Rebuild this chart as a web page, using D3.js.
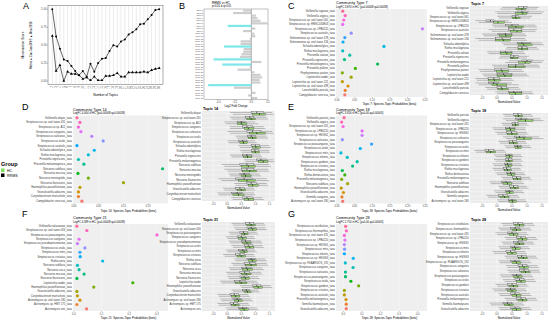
<!DOCTYPE html>
<html><head><meta charset="utf-8">
<script src="https://cdn.jsdelivr.net/npm/d3@7"></script>
<style>body{margin:0;background:#fff} text{font-family:"Liberation Sans",Arial,sans-serif}</style>
</head><body><svg id="fig" width="552" height="323"></svg>
<script>
// ---------- panel A : topic number tuning
var topicsA = [2,3,4,5,6,7,8,9,10,11,12,13,14,15,16,17,18,19,20,21,22,23,24,25,26,27,28,29,30];
var arun    = [1.00,0.62,0.45,0.30,0.28,0.21,0.14,0.08,0.14,0.06,0.24,0.13,0.25,0.31,0.32,0.42,0.50,0.48,0.55,0.58,0.65,0.68,0.72,0.79,0.80,0.86,0.92,0.99,1.00];
var caojuan = [0.63,0.14,0.22,0.00,0.13,0.10,0.10,0.08,0.03,0.05,0.01,0.06,0.01,0.01,0.07,0.07,0.08,0.11,0.06,0.06,0.12,0.12,0.12,0.12,0.13,0.12,0.15,0.17,0.18];

// ---------- panel B : RRMS vs HC per topic
var topicsB = d3.range(1,36).map(function(i){return "Topic " + i;});
var lfcB = [-0.10,-0.22,0.055,0.074,0.11,0.20,-0.285,0.048,-0.10,0.037,0.048,-0.019,-0.13,-0.13,-0.33,-0.092,-0.10,-0.12,-0.137,-0.455,0.12,-0.35,-0.019,-0.167,0.037,0.11,0.13,0.10,0.11,-0.52,-0.21,0.01,0.05,-0.04,0.07];
var sigB = [7,15,20,22,30];

// ---------- panels C-G : species per community type
var namesC = ["Veillonella rogosae","Veillonella atypica","Streptococcus sp. oral taxon 061","Streptococcus sp. HMSC034E03","Streptococcus sp. LPB0220","Streptococcus australis","Selenomonas sp. oral taxon 478","Selenomonas sp. oral taxon 136","Schaalia odontolytica","Rothia mucilaginosa","Prevotella salivae","Prevotella nigrescens","Prevotella melaninogenica","Prevotella pallens","Porphyromonas pasteri","Leptotrichia wadei","Leptotrichia sp. oral taxon 221","Leptotrichia sp. oral taxon 498","Lancefieldella parvula","Campylobacter concisus"];
var betaC = [0.016,0.023,0.019,0.016,0.242,0.040,0.022,0.017,0.133,0.016,0.036,0.021,0.115,0.052,0.015,0.040,0.015,0.031,0.023,0.022];
var hcC = [[0.11,0.63,0.83,0.94,1.33],[0,0.61,0.86,1.0,1.5],[0.06,0.5,0.63,0.78,1.11],[-0.61,-0.11,0.03,0.26,0.5],[-0.11,0.39,0.63,0.89,1.33],[-0.17,0.44,0.67,0.83,1.28],[-0.44,0.08,0.3,0.5,1.0],[-0.61,-0.06,0.22,0.44,1.0],[0.22,0.7,0.89,1.17,1.56],[0.28,0.7,0.83,1.03,1.39],[-0.28,0.11,0.33,0.5,0.94],[0.06,0.44,0.5,0.7,1.0],[0.28,0.72,0.94,1.11,1.5],[-0.11,0.39,0.61,0.94,1.44],[-0.56,-0.03,0.17,0.39,0.89],[-0.44,0,0.26,0.5,1.06],[-0.67,-0.28,-0.08,0.11,0.56],[-0.61,-0.17,0,0.33,0.72],[-0.33,0.03,0.17,0.37,0.78],[0,0.41,0.61,0.83,1.22]];
var rrC = [[0.17,0.72,0.89,1.0,1.39],[-0.06,0.67,0.83,1.06,1.56],[0,0.5,0.61,0.72,1.17],[-0.72,-0.37,-0.22,-0.08,0.39],[-0.17,0.28,0.5,0.72,1.28],[-0.28,0.39,0.56,0.83,1.33],[-0.5,0.03,0.28,0.5,0.94],[-0.72,-0.06,0.17,0.44,0.94],[0.17,0.67,0.83,1.11,1.5],[0.33,0.7,0.83,1.0,1.33],[-0.33,0.11,0.28,0.5,0.89],[0.11,0.44,0.56,0.72,1.06],[0.39,0.83,1.0,1.17,1.56],[-0.17,0.39,0.63,0.89,1.39],[-0.61,-0.08,0.14,0.39,0.83],[-0.5,0,0.22,0.5,1.0],[-0.72,-0.3,-0.11,0.08,0.5],[-0.72,-0.28,-0.11,0.06,0.5],[-0.39,0,0.14,0.33,0.72],[-0.06,0.39,0.56,0.83,1.17]];

var namesD = ["Veillonella dispar","Streptococcus sp. oral taxon 431","Streptococcus sp. A12","Streptococcus sanguinis","Streptococcus salivarius","Streptococcus oralis","Streptococcus australis","Schaalia odontolytica","Rothia mucilaginosa","Prevotella nigrescens","Prevotella melaninogenica","Neisseria subflava","Neisseria mucosa","Neisseria meningitidis","Neisseria flavescens","Haemophilus parainfluenzae","Granulicatella adiacens","Corynebacterium matruchotii","Campylobacter concisus"];
var betaD = [0.006,0.012,0.009,0.014,0.036,0.059,0.006,0.041,0.029,0.009,0.020,0.179,0.008,0.029,0.100,0.012,0.009,0.009,0.016];
var hcD = [[0.2,0.9,1.15,1.35,1.65],[0.15,0.7,0.85,1.0,1.45],[-0.05,0.35,0.5,0.7,1.1],[0.1,0.6,0.75,0.95,1.35],[0.1,0.8,1.05,1.35,1.65],[0.35,0.75,0.9,1.05,1.45],[0.05,0.45,0.58,0.72,1.05],[0.45,0.9,1.02,1.18,1.55],[0.5,0.88,1.0,1.15,1.52],[0.15,0.58,0.72,0.88,1.25],[0.65,1.1,1.28,1.45,1.68],[-0.1,0.5,0.75,1.0,1.55],[0.0,0.55,0.8,1.05,1.5],[0.1,0.5,0.65,0.85,1.2],[-0.2,0.4,0.7,1.0,1.5],[0.3,0.75,0.9,1.1,1.45],[-0.1,0.35,0.5,0.65,1.0],[-0.3,0.2,0.4,0.6,1.0],[0.2,0.6,0.75,0.95,1.3]];
var rrD = [[0.1,0.85,1.05,1.3,1.6],[0.1,0.65,0.8,0.95,1.4],[-0.1,0.35,0.5,0.65,1.0],[0.1,0.55,0.7,0.9,1.3],[0.0,0.7,0.9,1.2,1.6],[0.3,0.72,0.85,1.0,1.4],[0.0,0.4,0.55,0.7,1.0],[0.4,0.85,1.0,1.15,1.5],[0.45,0.85,0.98,1.12,1.5],[0.1,0.55,0.7,0.85,1.2],[0.6,1.05,1.2,1.4,1.65],[-0.2,0.45,0.7,0.95,1.5],[-0.1,0.5,0.7,0.95,1.45],[0.05,0.45,0.6,0.8,1.15],[-0.3,0.3,0.6,0.9,1.4],[0.25,0.7,0.85,1.05,1.4],[-0.15,0.3,0.45,0.6,0.95],[-0.35,0.15,0.35,0.55,0.95],[0.15,0.55,0.7,0.9,1.25]];

var namesE = ["Veillonella parvula","Veillonella atypica","Streptococcus sp. oral taxon 431","Streptococcus sp. LPB0220","Streptococcus sp. HSISS1","Streptococcus salivarius","Streptococcus parasanguinis","Streptococcus oralis","Streptococcus mitis","Streptococcus infantis","Streptococcus gordonii","Streptococcus cristatus","Rothia mucilaginosa","Rothia dentocariosa","Prevotella melaninogenica","Neisseria subflava","Haemophilus parainfluenzae","Granulicatella adiacens","Gemella sanguinis","Actinomyces sp. oral taxon 180"];
var betaE = [0.020,0.013,0.017,0.071,0.071,0.015,0.098,0.066,0.011,0.029,0.057,0.044,0.015,0.022,0.013,0.030,0.012,0.018,0.014,0.016];
var hcE = [[0.25,0.6,0.72,0.85,1.2],[0.3,0.7,0.95,1.2,1.55],[0.2,0.52,0.62,0.72,1.05],[-0.1,0.3,0.45,0.6,0.95],[0.0,0.35,0.5,0.68,1.05],[0.3,0.65,0.9,1.15,1.55],[0.1,0.42,0.55,0.68,1.0],[0.3,0.6,0.7,0.82,1.15],[-0.7,-0.35,-0.22,-0.05,0.3],[-0.05,0.3,0.42,0.52,0.85],[-0.05,0.3,0.4,0.52,0.85],[-0.1,0.28,0.38,0.5,0.85],[-0.1,0.25,0.35,0.48,0.8],[0.0,0.35,0.48,0.6,0.95],[0.2,0.55,0.68,0.8,1.15],[-0.2,0.2,0.35,0.5,0.9],[0.1,0.45,0.6,0.72,1.05],[-0.05,0.3,0.42,0.55,0.9],[-0.3,0.1,0.25,0.4,0.75],[0.05,0.4,0.52,0.65,1.0]];
var rrE = [[0.2,0.55,0.7,0.82,1.15],[0.2,0.62,0.8,1.0,1.45],[0.15,0.5,0.6,0.7,1.0],[-0.15,0.28,0.42,0.6,0.95],[-0.05,0.32,0.48,0.65,1.0],[0.2,0.58,0.75,0.95,1.4],[0.05,0.4,0.52,0.65,0.95],[0.25,0.58,0.68,0.8,1.1],[-0.75,-0.4,-0.28,-0.1,0.25],[-0.1,0.28,0.4,0.5,0.8],[-0.1,0.28,0.38,0.5,0.8],[-0.15,0.25,0.35,0.48,0.8],[-0.15,0.22,0.32,0.45,0.78],[-0.05,0.32,0.45,0.58,0.9],[0.15,0.52,0.65,0.78,1.1],[-0.25,0.15,0.3,0.45,0.85],[0.05,0.42,0.55,0.7,1.0],[-0.1,0.28,0.4,0.52,0.85],[-0.35,0.05,0.2,0.35,0.7],[0.0,0.38,0.5,0.62,0.95]];

var namesF = ["Veillonella nakazawae","Streptococcus sp. oral taxon 056","Streptococcus parasanguinis","Streptococcus sanguinis","Streptococcus pseudopneumoniae","Streptococcus oralis","Streptococcus mitis","Streptococcus cristatus","Rothia aeria","Neisseria subflava","Neisseria sicca","Neisseria mucosa","Neisseria flavescens","Leptotrichia wadei","Haemophilus parainfluenzae","Granulicatella adiacens","Corynebacterium matruchotii","Actinomyces sp. oral taxon 180","Actinomyces sp. HMT 175","Actinomyces oris"];
var betaF = [0.011,0.047,0.30,0.019,0.013,0.040,0.022,0.023,0.104,0.013,0.019,0.037,0.011,0.213,0.072,0.011,0.013,0.022,0.011,0.046];
var hcF = [[0.2,0.7,0.85,1.0,1.35],[0.3,0.75,0.9,1.05,1.4],[0.1,0.5,0.62,0.75,1.1],[0.0,0.4,0.55,0.68,1.0],[0.1,0.55,0.7,0.85,1.25],[0.2,0.65,0.8,0.95,1.3],[0.0,0.45,0.6,0.72,1.05],[-0.1,0.35,0.5,0.65,1.0],[0.3,0.75,0.9,1.05,1.4],[0.2,0.65,0.85,1.05,1.45],[0.1,0.55,0.72,0.9,1.3],[0.0,0.5,0.68,0.85,1.25],[0.05,0.5,0.65,0.8,1.15],[-0.2,0.3,0.5,0.7,1.1],[0.5,0.95,1.1,1.25,1.6],[0.2,0.6,0.72,0.85,1.15],[-0.3,0.15,0.3,0.45,0.8],[-0.2,0.25,0.4,0.55,0.9],[-0.3,0.15,0.28,0.42,0.8],[0.0,0.45,0.6,0.75,1.1]];
var rrF = [[0.15,0.65,0.8,0.95,1.3],[0.25,0.7,0.85,1.0,1.35],[0.05,0.45,0.58,0.72,1.05],[-0.05,0.35,0.5,0.65,0.95],[0.05,0.5,0.65,0.82,1.2],[0.15,0.6,0.75,0.9,1.25],[-0.05,0.4,0.55,0.7,1.0],[-0.15,0.3,0.45,0.6,0.95],[0.25,0.7,0.85,1.0,1.35],[0.15,0.6,0.8,1.0,1.4],[0.05,0.5,0.68,0.85,1.25],[-0.05,0.45,0.62,0.8,1.2],[0.0,0.45,0.6,0.75,1.1],[-0.25,0.25,0.45,0.65,1.05],[0.45,0.9,1.05,1.2,1.55],[0.15,0.55,0.68,0.8,1.1],[-0.35,0.1,0.25,0.4,0.75],[-0.25,0.2,0.35,0.5,0.85],[-0.35,0.1,0.22,0.38,0.75],[-0.05,0.4,0.55,0.7,1.05]];

var namesG = ["Streptococcus vestibularis","Streptococcus thermophilus","Streptococcus sp. oral taxon 431","Streptococcus sp. LPB0220","Streptococcus sp. HSISS1","Streptococcus mitis","Streptococcus infantis","Streptococcus sp. HSISS3","Streptococcus sp. FDAARGOS_192","Streptococcus sanguinis","Streptococcus salivarius","Streptococcus parasanguinis","Streptococcus oralis","Streptococcus gordonii","Streptococcus cristatus","Streptococcus australis","Prevotella melaninogenica","Gemella haemolysans","Granulicatella adiacens"];
var betaG = [0.012,0.016,0.005,0.008,0.005,0.006,0.005,0.053,0.010,0.052,0.011,0.011,0.040,0.082,0.005,0.005,0.014,0.015,0.015];
var hcG = [[0.2,0.6,0.75,0.9,1.25],[0.1,0.5,0.65,0.8,1.15],[0.0,0.4,0.55,0.7,1.05],[0.3,0.7,0.85,1.0,1.35],[0.2,0.6,0.75,0.9,1.25],[0.1,0.5,0.62,0.78,1.1],[-0.1,0.35,0.5,0.65,1.0],[0.3,0.72,0.88,1.02,1.35],[0.1,0.5,0.65,0.8,1.15],[0.35,0.75,0.9,1.05,1.4],[0.4,0.8,0.95,1.1,1.45],[0.15,0.55,0.7,0.85,1.2],[0.25,0.65,0.8,0.95,1.3],[0.0,0.4,0.55,0.7,1.05],[-0.1,0.35,0.5,0.65,1.0],[0.1,0.5,0.65,0.8,1.15],[0.3,0.7,0.85,1.0,1.35],[-0.2,0.25,0.4,0.55,0.9],[0.1,0.5,0.65,0.8,1.15]];
var rrG = [[0.15,0.55,0.7,0.85,1.2],[0.05,0.45,0.6,0.75,1.1],[-0.05,0.35,0.5,0.65,1.0],[0.25,0.65,0.8,0.95,1.3],[0.15,0.55,0.7,0.85,1.2],[0.05,0.45,0.58,0.72,1.05],[-0.15,0.3,0.45,0.6,0.95],[0.25,0.68,0.82,0.98,1.3],[0.05,0.45,0.6,0.75,1.1],[0.3,0.7,0.85,1.0,1.35],[0.35,0.75,0.9,1.05,1.4],[0.1,0.5,0.65,0.8,1.15],[0.2,0.6,0.75,0.9,1.25],[-0.05,0.35,0.5,0.65,1.0],[-0.15,0.3,0.45,0.6,0.95],[0.05,0.45,0.6,0.75,1.1],[0.25,0.65,0.8,0.95,1.3],[-0.25,0.2,0.35,0.5,0.85],[0.05,0.45,0.6,0.75,1.1]];

var groups = ["HC","RRMS"];
var groupFill = {HC:"#90D16A", RRMS:"#DADADA"};

// ---------- helpers
var svg = d3.select("#fig");
var GRAY = "#EBEBEB", TXT = "#4D4D4D";

// R style hcl() (polar LUV) -> hex, used for ggplot's default hue palette
function hclR(h, c, l) {
  var hr = h * Math.PI / 180, u = c * Math.cos(hr), v = c * Math.sin(hr);
  var Xn = 95.047, Yn = 100, Zn = 108.883, den = Xn + 15 * Yn + 3 * Zn;
  var un = 4 * Xn / den, vn = 9 * Yn / den;
  var Y = l > 8 ? Yn * Math.pow((l + 16) / 116, 3) : Yn * l / 903.3;
  var up = u / (13 * l) + un, vp = v / (13 * l) + vn;
  var X = 9 * Y * up / (4 * vp), Z = Y * (12 - 3 * up - 20 * vp) / (4 * vp);
  X /= 100; Y /= 100; Z /= 100;
  var r = 3.2404542*X - 1.5371385*Y - 0.4985314*Z;
  var g = -0.9692660*X + 1.8760108*Y + 0.0415560*Z;
  var b = 0.0556434*X - 0.2040259*Y + 1.0572252*Z;
  function gam(c) { c = c <= 0.0031308 ? 12.92 * c : 1.055 * Math.pow(c, 1 / 2.4) - 0.055; return Math.max(0, Math.min(255, Math.round(c * 255))); }
  return d3.rgb(gam(r), gam(g), gam(b)).formatHex();
}
function huePal(n) { return d3.range(n).map(function(i){ return hclR(15 + 360 * i / n, 100, 65); }); }

function letter(t, x, y) {
  svg.append("text").attr("x", x).attr("y", y).text(t).style("font-size", "9px").style("fill", "#000");
}

function bottomAxis(g, x, ticks, y, fmt) {
  ticks.forEach(function(t){
    g.append("line").attr("x1", x(t)).attr("x2", x(t)).attr("y1", y).attr("y2", y + 1).attr("stroke", "#333").attr("stroke-width", 0.3);
    g.append("text").attr("x", x(t)).attr("y", y + 3.6).attr("text-anchor", "middle").text(d3.format(fmt)(t)).style("font-size", "2.6px").style("fill", TXT);
  });
}

function dotPanel(o) {
  var g = svg.append("g"), n = o.names.length;
  var y = d3.scaleBand().domain(d3.range(n)).range([o.y0, o.y1]);
  var x = d3.scaleLinear().domain(o.domain).range([o.x0, o.x1]);
  var cols = huePal(n);
  g.append("rect").attr("x", o.x0).attr("y", o.y0).attr("width", o.x1 - o.x0).attr("height", o.y1 - o.y0).attr("fill", "#EFEFEF");
  o.ticks.forEach(function(t){
    g.append("line").attr("x1", x(t)).attr("x2", x(t)).attr("y1", o.y0).attr("y2", o.y1).attr("stroke", "#fff").attr("stroke-width", 0.3);
  });
  g.selectAll(".lab").data(o.names).enter().append("text")
    .attr("x", o.x0 - 1.2).attr("y", function(d, i){ return y(i) + y.bandwidth() / 2 + 0.9; })
    .attr("text-anchor", "end").text(function(d){ return d + "_taxa"; })
    .style("font-size", "2.7px").style("fill", "#3a3a3a");
  g.selectAll(".pt").data(o.vals).enter().append("circle")
    .attr("cx", function(d){ return x(d); })
    .attr("cy", function(d, i){ return y(i) + y.bandwidth() / 2; })
    .attr("r", 1.6).attr("fill", function(d, i){ return cols[n - 1 - i]; });
  g.append("text").attr("x", o.x0).attr("y", o.y0 - 5).text(o.title).style("font-size", "3.8px").style("fill", "#000");
  g.append("text").attr("x", o.x0).attr("y", o.y0 - 1.3).text(o.sub).style("font-size", "2.7px").style("fill", "#000");
  bottomAxis(g, x, o.ticks, o.y1, o.fmt);
  g.append("text").attr("x", (o.x0 + o.x1) / 2 + 8).attr("y", o.y1 + 8.2).attr("text-anchor", "middle").text(o.xTitle).style("font-size", "2.9px").style("fill", "#000");
}

function boxPanel(o) {
  var g = svg.append("g"), n = o.names.length;
  var y = d3.scaleBand().domain(d3.range(n)).range([o.y0, o.y1]);
  var x = d3.scaleLinear().domain(o.domain).range([o.x0, o.x1]);
  g.append("rect").attr("x", o.x0).attr("y", o.y0).attr("width", o.x1 - o.x0).attr("height", o.y1 - o.y0).attr("fill", GRAY);
  o.ticks.forEach(function(t){
    g.append("line").attr("x1", x(t)).attr("x2", x(t)).attr("y1", o.y0).attr("y2", o.y1).attr("stroke", "#fff").attr("stroke-width", 0.4);
  });
  d3.range(n).forEach(function(i){
    var cy = y(i) + y.bandwidth() / 2;
    g.append("line").attr("x1", o.x0).attr("x2", o.x1).attr("y1", cy).attr("y2", cy).attr("stroke", "#fff").attr("stroke-width", 0.4);
  });
  g.selectAll(".lab").data(o.names).enter().append("text")
    .attr("x", o.x0 - 1.2).attr("y", function(d, i){ return y(i) + y.bandwidth() / 2 + 0.9; })
    .attr("text-anchor", "end").text(function(d){ return d; })
    .style("font-size", "2.7px").style("fill", "#3a3a3a");
  var bh = y.bandwidth() * 0.36;
  [["RRMS", o.rr, -1], ["HC", o.hc, 1]].forEach(function(s){
    s[1].forEach(function(b, i){
      var cy = y(i) + y.bandwidth() / 2 + s[2] * y.bandwidth() * 0.19;
      g.append("line").attr("x1", x(b[0])).attr("x2", x(b[1])).attr("y1", cy).attr("y2", cy).attr("stroke", "#333").attr("stroke-width", 0.3);
      g.append("line").attr("x1", x(b[3])).attr("x2", x(b[4])).attr("y1", cy).attr("y2", cy).attr("stroke", "#333").attr("stroke-width", 0.3);
      g.append("rect").attr("x", x(b[1])).attr("y", cy - bh / 2).attr("width", x(b[3]) - x(b[1])).attr("height", bh)
        .attr("fill", groupFill[s[0]]).attr("stroke", "#222").attr("stroke-width", 0.3);
      g.append("line").attr("x1", x(b[2])).attr("x2", x(b[2])).attr("y1", cy - bh / 2).attr("y2", cy + bh / 2).attr("stroke", "#000").attr("stroke-width", 0.6);
    });
  });
  g.append("text").attr("x", o.x0 + 1).attr("y", o.y0 - 1.5).text(o.title).style("font-size", "3.8px").style("font-weight", "bold").style("fill", "#000");
  bottomAxis(g, x, o.ticks, o.y1, o.fmt);
  g.append("text").attr("x", (o.x0 + o.x1) / 2).attr("y", o.y1 + 7.5).attr("text-anchor", "middle").text("Normalized Value").style("font-size", "2.9px").style("fill", "#000");
}

// ---------- A
(function(){
  var x0 = 48, x1 = 163, y0 = 5.7, y1 = 84.6;
  var g = svg.append("g");
  var x = d3.scalePoint().domain(topicsA).range([x0 + 4.3, x1 - 3.8]);
  var y = d3.scaleLinear().domain([-0.05, 1.05]).range([y1, y0]);
  g.append("rect").attr("x", x0).attr("y", y0).attr("width", x1 - x0).attr("height", y1 - y0).attr("fill", "#fff").attr("stroke", "#333").attr("stroke-width", 0.4);
  topicsA.forEach(function(t){
    g.append("line").attr("x1", x(t)).attr("x2", x(t)).attr("y1", y0).attr("y2", y1).attr("stroke", "#D9D9D9").attr("stroke-width", 0.5);
    g.append("text").attr("transform", "translate(" + (x(t) + 0.9) + "," + (y1 + 1.5) + ") rotate(-90)").attr("text-anchor", "end").text(t).style("font-size", "2.6px").style("fill", TXT);
  });
  [0, 0.25, 0.5, 0.75, 1].forEach(function(t){
    g.append("text").attr("x", x0 - 1.5).attr("y", y(t) + 1).attr("text-anchor", "end").text(d3.format(".2f")(t)).style("font-size", "2.8px").style("fill", TXT);
    g.append("line").attr("x1", x0 - 1).attr("x2", x0).attr("y1", y(t)).attr("y2", y(t)).attr("stroke", "#333").attr("stroke-width", 0.3);
  });
  var line = d3.line().x(function(d, i){ return x(topicsA[i]); }).y(function(d){ return y(d); });
  [arun, caojuan].forEach(function(s){
    g.append("path").attr("d", line(s)).attr("fill", "none").attr("stroke", "#000").attr("stroke-width", 0.6);
  });
  g.selectAll(".c").data(arun).enter().append("circle").attr("cx", function(d, i){ return x(topicsA[i]); }).attr("cy", function(d){ return y(d); }).attr("r", 1).attr("fill", "#000");
  g.selectAll(".t").data(caojuan).enter().append("path")
    .attr("d", d3.symbol().type(d3.symbolTriangle).size(3.5))
    .attr("transform", function(d, i){ return "translate(" + x(topicsA[i]) + "," + y(d) + ")"; }).attr("fill", "#000");
  g.append("text").attr("transform", "translate(24,45) rotate(-90)").attr("text-anchor", "middle").text("Minimization Score").style("font-size", "3.2px");
  g.append("text").attr("transform", "translate(32,45) rotate(-90)").attr("text-anchor", "middle").text("Metric \u25CF CaoJuan2009 \u25B2 Arun2010").style("font-size", "3px");
  g.append("text").attr("x", (x0 + x1) / 2).attr("y", 96).attr("text-anchor", "middle").text("Number of Topics").style("font-size", "3.2px");
  letter("A", 23, 9);
})();

// ---------- B
(function(){
  var x0 = 204, x1 = 268, y0 = 9, y1 = 99.5;
  var g = svg.append("g");
  var y = d3.scaleBand().domain(topicsB).range([y0, y1]).padding(0.15);
  var x = d3.scaleLinear().domain([-0.57, 0.2]).range([x0, x1]);
  g.append("rect").attr("x", x0).attr("y", y0).attr("width", x1 - x0).attr("height", y1 - y0).attr("fill", "#fff").attr("stroke", "#333").attr("stroke-width", 0.3);
  g.selectAll(".bar").data(lfcB).enter().append("rect")
    .attr("x", function(d){ return x(Math.min(0, d)); })
    .attr("y", function(d, i){ return y(topicsB[i]); })
    .attr("width", function(d){ return Math.abs(x(d) - x(0)); })
    .attr("height", y.bandwidth())
    .attr("fill", function(d, i){ return sigB.indexOf(i + 1) >= 0 ? "#7EE8E8" : "#CDCDCD"; });
  g.append("line").attr("x1", x(0)).attr("x2", x(0)).attr("y1", y0).attr("y2", y1).attr("stroke", "#333").attr("stroke-width", 0.3);
  g.selectAll(".lab").data(topicsB).enter().append("text")
    .attr("x", x0 - 1).attr("y", function(d){ return y(d) + y.bandwidth() / 2 + 0.7; })
    .attr("text-anchor", "end").text(function(d){ return d; }).style("font-size", "2.1px").style("fill", TXT);
  bottomAxis(g, x, [-0.4, -0.2, 0, 0.2], y1, ".1f");
  g.append("text").attr("x", (x0 + x1) / 2).attr("y", 107).attr("text-anchor", "middle").text("Log2 Fold Change").style("font-size", "2.8px");
  g.append("text").attr("x", x0 + 8).attr("y", 3.5).text("RRMS vs HC").style("font-size", "3px");
  g.append("text").attr("x", x0 + 8).attr("y", 7).text("p<0.05 & q<0.05").style("font-size", "2.6px");
  letter("B", 179, 9);
})();

// ---------- C..G
dotPanel({x0:336, x1:427, y0:9, y1:97, names:namesC, vals:betaC, domain:[-0.003,0.255], ticks:[0,0.05,0.1,0.15,0.2,0.25], fmt:".2f",
  title:"Community Type 7", sub:"LogFC 3.874 in HC (p=0.00008 q=0.00038)", xTitle:"Topic 7: Species-Topic Probabilities (beta)"});
boxPanel({x0:470, x1:548, y0:6, y1:95, names:namesC, hc:hcC, rr:rrC, domain:[-0.9,1.7], ticks:[-0.5,0,0.5,1,1.5], fmt:".1f", title:"Topic 7"});
letter("C", 288, 9);

dotPanel({x0:73, x1:168, y0:115.5, y1:203.5, names:namesD, vals:betaD, domain:[-0.002,0.19], ticks:[0,0.05,0.1,0.15], fmt:".2f",
  title:"Community Type 14", sub:"LogFC 4.004 in HC (p=0.00008 q=0.00038)", xTitle:"Topic 14: Species-Topic Probabilities (beta)"});
boxPanel({x0:202, x1:275, y0:111, y1:201, names:namesD, hc:hcD, rr:rrD, domain:[-0.9,1.7], ticks:[-0.5,0,0.5,1,1.5], fmt:".1f", title:"Topic 14"});
letter("D", 22, 110);

dotPanel({x0:336, x1:427, y0:115.5, y1:203.5, names:namesE, vals:betaE, domain:[-0.003,0.255], ticks:[0,0.05,0.1,0.15,0.2,0.25], fmt:".2f",
  title:"Community Type 18", sub:"LogFC 3.656 in HC (p=0.00 q=0.00003)", xTitle:"Topic 18: Species-Topic Probabilities (beta)"});
boxPanel({x0:470, x1:548, y0:113, y1:203, names:namesE, hc:hcE, rr:rrE, domain:[-0.9,1.7], ticks:[-0.5,0,0.5,1,1.5], fmt:".1f", title:"Topic 18"});
letter("E", 288, 110);

dotPanel({x0:73, x1:168, y0:224, y1:311, names:namesF, vals:betaF, domain:[-0.003,0.34], ticks:[0,0.1,0.2,0.3], fmt:".1f",
  title:"Community Type 21", sub:"LogFC 4.389 in HC (p=0.00008 q=0.00038)", xTitle:"Topic 21: Species-Topic Probabilities (beta)"});
boxPanel({x0:202, x1:275, y0:222, y1:311, names:namesF, hc:hcF, rr:rrF, domain:[-0.9,1.7], ticks:[-0.5,0,0.5,1,1.5], fmt:".1f", title:"Topic 21"});
letter("F", 22, 217);

dotPanel({x0:336, x1:427, y0:224, y1:311, names:namesG, vals:betaG, domain:[-0.04,0.45], ticks:[0,0.1,0.2,0.3,0.4], fmt:".1f",
  title:"Community Type 28", sub:"LogFC 2.750 in HC (p=0.00 q=0.00003)", xTitle:"Topic 28: Species-Topic Probabilities (beta)"});
boxPanel({x0:470, x1:548, y0:222, y1:311, names:namesG, hc:hcG, rr:rrG, domain:[-0.9,1.7], ticks:[-0.5,0,0.5,1,1.5], fmt:".1f", title:"Topic 28"});
letter("G", 288, 217);

// ---------- legend
(function(){
  var g = svg.append("g");
  g.append("text").attr("x", 1).attr("y", 166).text("Group").style("font-size", "5.5px").style("font-weight", "bold");
  groups.forEach(function(k, i){
    g.append("rect").attr("x", 1).attr("y", 168.5 + i * 5).attr("width", 3.5).attr("height", 3.5).attr("fill", k == "HC" ? "#7CE05A" : "#000");
    g.append("text").attr("x", 7).attr("y", 171.6 + i * 5).text(k).style("font-size", "3.6px");
  });
})();
</script></body></html>
